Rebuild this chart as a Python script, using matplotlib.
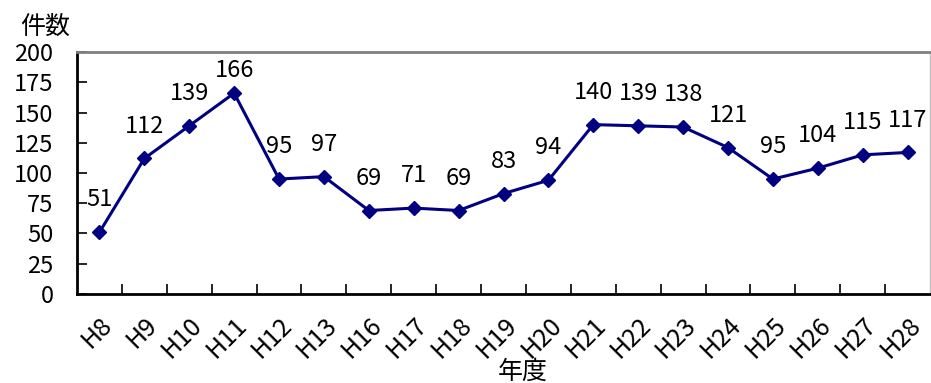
import numpy as np
import matplotlib.pyplot as plt

plt.rcParams['font.family'] = ['Noto Sans CJK JP', 'DejaVu Sans']

years = ['H8', 'H9', 'H10', 'H11', 'H12', 'H13', 'H16', 'H17', 'H18', 'H19',
         'H20', 'H21', 'H22', 'H23', 'H24', 'H25', 'H26', 'H27', 'H28']
counts = [51, 112, 139, 166, 95, 97, 69, 71, 69, 83,
          94, 140, 139, 138, 121, 95, 104, 115, 117]

fig = plt.figure(figsize=(9.31, 3.83), dpi=100)
ax = fig.add_axes([0.0827, 0.2324, 0.9163, 0.6318])

x = np.arange(len(years))
ax.plot(x, counts, color='#000080', linewidth=2.2, marker='D', markersize=7.5)

# value labels above each point; the peak is kept inside the frame
for xi, v in zip(x, counts):
    off = 8 if v > 160 else 15
    ax.annotate(str(v), (xi, v), xytext=(0, off), textcoords='offset points',
                ha='center', va='bottom', fontsize=17)

ax.set_xlim(-0.5, len(years) - 0.5)
ax.set_ylim(0, 200)
ax.set_yticks(np.arange(0, 201, 25))
ax.tick_params(axis='y', direction='in', length=7, width=1.2, labelsize=17, pad=17)
ax.set_xticks(x)
ax.set_xticklabels(years, rotation=45, ha='right', rotation_mode='anchor', fontsize=18)
ax.tick_params(axis='x', which='major', length=0, pad=13)
ax.set_xticks(np.arange(0.5, len(years) - 0.5), minor=True)
ax.tick_params(axis='x', which='minor', direction='in', length=7, width=1.2)

ax.spines['left'].set_linewidth(2)
ax.spines['bottom'].set_linewidth(2)
ax.spines['top'].set_color('#808080')
ax.spines['top'].set_linewidth(2)
ax.spines['right'].set_color('#c0c0c0')
ax.spines['right'].set_linewidth(1)

fig.text(0.048, 0.93, '件数', fontsize=18, ha='center', va='center')
fig.text(0.561, 0.03, '年度', fontsize=18, ha='center', va='center')

fig.savefig('out.png', dpi=100)
